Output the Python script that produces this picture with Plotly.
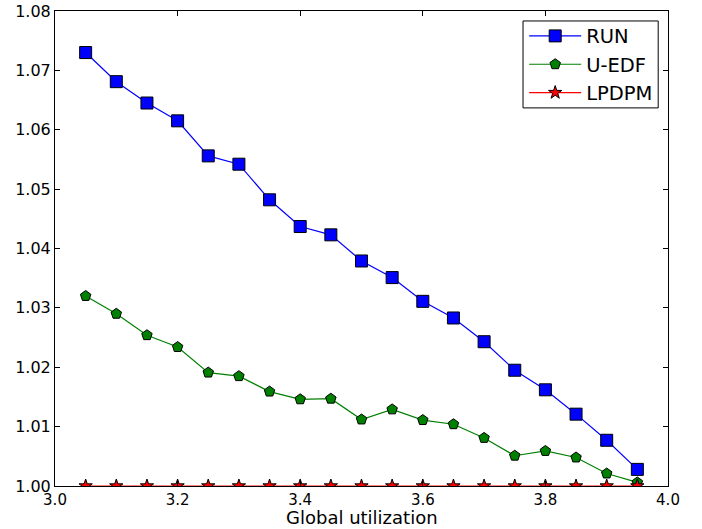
import plotly.graph_objects as go

x_vals = [3.05, 3.10, 3.15, 3.20, 3.25, 3.30, 3.35, 3.40, 3.45, 3.50,
          3.55, 3.60, 3.65, 3.70, 3.75, 3.80, 3.85, 3.90, 3.95]
run_vals = [1.0730, 1.0681, 1.0645, 1.0615, 1.0556, 1.0542, 1.0482, 1.0437, 1.0423, 1.0379,
            1.0351, 1.0311, 1.0283, 1.0243, 1.0195, 1.0162, 1.0121, 1.0077, 1.0028]
uedf_vals = [1.0320, 1.0290, 1.0254, 1.0234, 1.0191, 1.0185, 1.0159, 1.0146, 1.0147, 1.0112,
             1.0129, 1.0111, 1.0104, 1.0081, 1.0051, 1.0059, 1.0048, 1.0021, 1.0006]
lpdpm_vals = [1.0] * 19

x_ticks = [3.0, 3.2, 3.4, 3.6, 3.8, 4.0]
y_ticks = [1.00, 1.01, 1.02, 1.03, 1.04, 1.05, 1.06, 1.07, 1.08]
x_title = "Global utilization"

font = "DejaVu Sans"

fig = go.Figure()
fig.add_trace(go.Scatter(
    x=x_vals, y=run_vals, name="RUN", mode="lines+markers",
    line=dict(color="#0000ff", width=1.2),
    marker=dict(symbol="square", size=12, color="#0000ff", line=dict(color="black", width=1))))
fig.add_trace(go.Scatter(
    x=x_vals, y=uedf_vals, name="U-EDF", mode="lines+markers",
    line=dict(color="#008000", width=1.2),
    marker=dict(symbol="pentagon", size=11, color="#008000", line=dict(color="black", width=1))))
fig.add_trace(go.Scatter(
    x=x_vals, y=lpdpm_vals, name="LPDPM", mode="lines+markers",
    line=dict(color="#ff0000", width=1.2),
    marker=dict(symbol="star", size=10, color="#ff0000", line=dict(color="black", width=1))))

# legend frame
fig.add_shape(type="rect", xref="paper", yref="paper",
              x0=0.7635, x1=0.984, y0=0.796, y1=0.979,
              line=dict(color="black", width=1), fillcolor="white", layer="above")

# x-axis title
fig.add_annotation(text=x_title, xref="paper", yref="paper", x=0.5, y=0,
                   xanchor="center", yanchor="middle", yshift=-31, showarrow=False,
                   borderpad=0,
                   font=dict(family=font, size=18, color="black"))

fig.update_layout(
    width=702, height=529,
    margin=dict(l=55, r=34, t=11, b=43),
    paper_bgcolor="white", plot_bgcolor="white",
    font=dict(family=font, size=16, color="black"),
    showlegend=True,
    legend=dict(x=0.984, y=0.988, xanchor="right", yanchor="top",
                borderwidth=0, bgcolor="rgba(0,0,0,0)",
                font=dict(family=font, size=19.5), tracegroupgap=0,
                itemwidth=52),
    xaxis=dict(range=[3.0, 4.0], tickvals=x_ticks,
               ticktext=[f"{v:.1f}" for v in x_ticks],
               ticks="inside", ticklen=5, tickcolor="black", mirror="ticks",
               showline=True, linecolor="black", linewidth=1, showgrid=False,
               zeroline=False, automargin=False, ticklabelstandoff=0,
               tickfont=dict(family=font, size=15)),
    yaxis=dict(range=[1.0, 1.08], tickvals=y_ticks,
               ticktext=[f"{v:.2f}" for v in y_ticks],
               ticks="inside", ticklen=5, tickcolor="black", mirror="ticks",
               showline=True, linecolor="black", linewidth=1, showgrid=False,
               zeroline=False, automargin=False, tickfont=dict(family=font, size=16)),
)

fig.write_html("out.html")
